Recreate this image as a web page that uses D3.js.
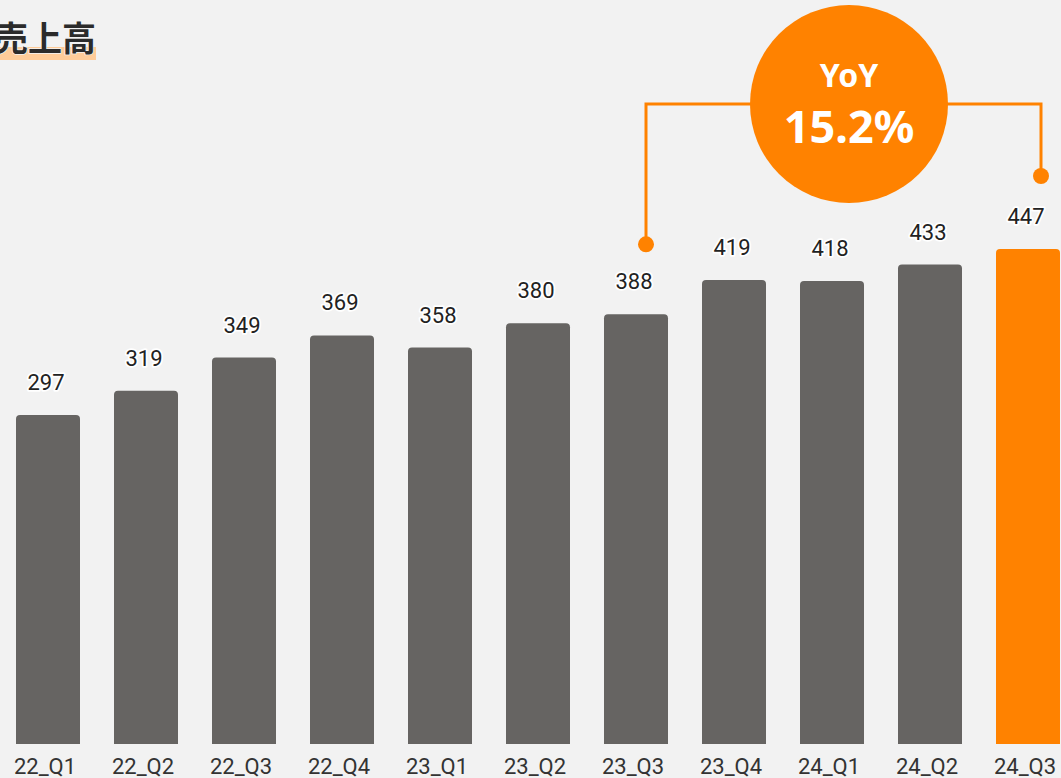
<!DOCTYPE html>
<html><head><meta charset="utf-8">
<script src="https://cdn.jsdelivr.net/npm/d3@7"></script>
<style>
html,body{margin:0;padding:0;background:#f2f2f2;}
svg{display:block;}
</style></head>
<body>
<svg id="chart" width="1061" height="778"></svg>
<script>
const categories = ["22_Q1","22_Q2","22_Q3","22_Q4","23_Q1","23_Q2","23_Q3","23_Q4","24_Q1","24_Q2","24_Q3"];
const values = [297,319,349,369,358,380,388,419,418,433,447];
const title = "売上高";
const yoyLabel = "YoY";
const yoyValue = "15.2%";
const yoyFrom = "23_Q3";
const yoyTo = "24_Q3";

const svg = d3.select("#chart");
const W = 1061, H = 778;
svg.append("rect").attr("width", W).attr("height", H).attr("fill", "#f2f2f2");

const x = d3.scaleBand().domain(categories).range([-1, 1077]).paddingInner(0.347).paddingOuter(0.1735);
const y = d3.scaleLinear().domain([0, 447]).range([744, 249]);

const grey = "#666462", orange = "#ff8200";

function barPath(x0, y0, w, y1, r) {
  return `M${x0},${y1} L${x0},${y0 + r} Q${x0},${y0} ${x0 + r},${y0} L${x0 + w - r},${y0} Q${x0 + w},${y0} ${x0 + w},${y0 + r} L${x0 + w},${y1} Z`;
}

svg.selectAll("path.bar").data(values).join("path")
  .attr("class", "bar")
  .attr("d", (d, i) => barPath(x(categories[i]), y(d), x.bandwidth(), y(0), 4))
  .attr("fill", (d, i) => i === values.length - 1 ? orange : grey);

svg.selectAll("text.val").data(values).join("text")
  .attr("class", "val")
  .attr("x", (d, i) => x(categories[i]) + x.bandwidth() / 2 - 2)
  .attr("y", d => y(d) - 25)
  .attr("text-anchor", "middle")
  .attr("font-family", "Roboto, sans-serif")
  .attr("font-size", 22)
  .attr("fill", "#222")
  .attr("stroke", "#fff").attr("stroke-width", 3.5).attr("stroke-linejoin", "round")
  .attr("paint-order", "stroke")
  .text(d => d);

svg.selectAll("text.cat").data(categories).join("text")
  .attr("class", "cat")
  .attr("x", d => x(d) + x.bandwidth() / 2 - 3)
  .attr("y", 774)
  .attr("text-anchor", "middle")
  .attr("font-family", "Roboto, sans-serif")
  .attr("font-size", 22)
  .attr("fill", "#333")
  .text(d => d);

// title
svg.append("rect").attr("x", 0).attr("y", 47).attr("width", 96).attr("height", 13).attr("fill", "#ffcc99");
svg.append("text").attr("x", -6).attr("y", 51)
  .attr("font-family", "'Noto Sans CJK JP', sans-serif").attr("font-weight", 700)
  .attr("font-size", 34).attr("fill", "#2b2b2b")
  .attr("stroke", "#f2f2f2").attr("stroke-width", 1.5).attr("paint-order", "stroke")
  .text(title);

// YoY bracket
const iFrom = categories.indexOf(yoyFrom), iTo = categories.indexOf(yoyTo);
const xa = x(yoyFrom) + x.bandwidth() / 2 + 10;
const xb = x(yoyTo) + x.bandwidth() / 2 + 13;
const ya = y(values[iFrom]) - 70;
const yb = y(values[iTo]) - 73;
const yLine = 104;
svg.append("path")
  .attr("d", `M${xa},${ya} L${xa},${yLine} L${xb},${yLine} L${xb},${yb}`)
  .attr("fill", "none").attr("stroke", orange).attr("stroke-width", 3);
svg.append("circle").attr("cx", xa).attr("cy", ya).attr("r", 8).attr("fill", orange);
svg.append("circle").attr("cx", xb).attr("cy", yb).attr("r", 8).attr("fill", orange);
svg.append("circle").attr("cx", 849).attr("cy", 104).attr("r", 99).attr("fill", orange);
svg.append("text").attr("x", 849).attr("y", 87).attr("text-anchor", "middle")
  .attr("font-family", "'Noto Sans', sans-serif").attr("font-weight", 700)
  .attr("font-size", 32).attr("fill", "#fff").text(yoyLabel);
svg.append("text").attr("x", 849).attr("y", 143).attr("text-anchor", "middle")
  .attr("font-family", "'Noto Sans', sans-serif").attr("font-weight", 700)
  .attr("font-size", 45).attr("fill", "#fff").text(yoyValue);
</script>
</body></html>
